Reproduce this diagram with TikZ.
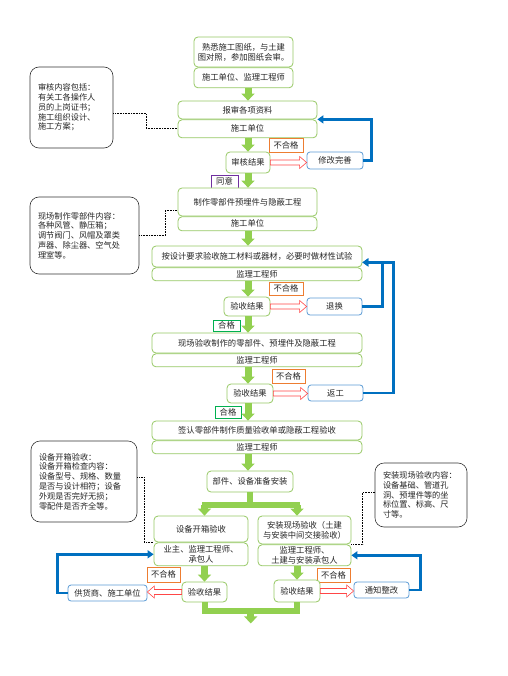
\documentclass[tikz,border=0pt]{standalone}
\usepackage{fontspec}
\setmainfont{Noto Sans CJK SC}
\usetikzlibrary{arrows.meta,calc,positioning}
\definecolor{flowgreen}{RGB}{146,208,80}
\definecolor{edgegreen}{RGB}{150,200,100}
\definecolor{linkblue}{RGB}{0,112,192}
\definecolor{boxblue}{RGB}{91,155,213}
\definecolor{tagorange}{RGB}{237,125,49}
\definecolor{tagpurple}{RGB}{112,48,160}
\definecolor{taggreen}{RGB}{0,176,80}
\definecolor{warnred}{RGB}{255,70,70}

% hollow block arrow between two points
\newcommand{\nogoarrow}[2]{%
  \path (#1) coordinate (na) (#2) coordinate (nb);
  \path ($(nb)!7pt!(na)$) coordinate (nh);
  \draw[hollow] ($(na)!2.5pt!90:(nb)$) -- ($(nh)!2.5pt!90:(nb)$) -- ($(nh)!6pt!90:(nb)$) -- (nb)
    -- ($(nh)!6pt!-90:(nb)$) -- ($(nh)!2.5pt!-90:(nb)$) -- ($(na)!2.5pt!-90:(nb)$) -- cycle;
}

\begin{document}
\begin{tikzpicture}[x=1pt, y=-1pt,
      box/.style={rectangle, rounded corners=4pt, draw=edgegreen, fill=white, line width=0.8pt, align=center, inner sep=1pt, text=black!85, font=\fontsize{8.3}{10}\selectfont},
      fixbox/.style={rectangle, rounded corners=3pt, draw=boxblue, fill=white, line width=0.8pt, inner sep=1pt, text=black!85, font=\fontsize{8.3}{10}\selectfont},
      tag/.style={rectangle, draw=#1, fill=white, line width=0.8pt, inner sep=1pt, text=black!85, font=\fontsize{8.3}{10}\selectfont},
      note/.style={rectangle, rounded corners=9pt, draw=black!80, fill=white, line width=0.6pt, align=left, inner xsep=8pt, text=black!85, font=\fontsize{8.2}{9.8}\selectfont},
      garr/.style={-{Triangle[length=7pt,width=13pt]}, draw=flowgreen, line width=7pt},
      gbar/.style={draw=flowgreen, line width=6pt},
      barr/.style={-{Triangle[length=6pt,width=8pt]}, draw=linkblue, line width=2.5pt},
      dotline/.style={densely dotted, draw=black, line width=0.6pt},
      hollow/.style={draw=warnred, fill=white, line width=0.6pt}
    ]
      \useasboundingbox (0,0) rectangle (507,676);
      \coordinate (spine) at (248,0);

      % Main column: preparation and review
      \node[box, minimum width=99pt, minimum height=30pt] (study) at (243.5,52) {熟悉施工图纸，与土建\\图对照，参加图纸会审。};
      \node[box, minimum width=99pt, minimum height=20pt, below=0pt of study] (studyby) {施工单位、监理工程师};
      \node[box, minimum width=139pt, minimum height=18pt] (review) at (247.5,110) {报审各项资料};
      \node[box, minimum width=139pt, minimum height=18pt, below=0pt of review] (reviewby) {施工单位};
      \node[box, minimum width=44pt, minimum height=21pt] (check1) at (248,162.5) {审核结果};
      \node[tag=tagorange, minimum width=34pt, minimum height=14pt] (ng1) at (286,145) {不合格};
      \node[fixbox, minimum width=56pt, minimum height=17pt] (fix) at (335,160.5) {修改完善};
      \node[tag=tagpurple, minimum width=27pt, minimum height=13pt] (agree) at (224.5,181.5) {同意};

      % Main column: parts and materials
      \node[box, minimum width=139pt, minimum height=28pt] (make) at (247.5,202) {制作零部件预埋件与隐蔽工程};
      \node[box, minimum width=139pt, minimum height=14pt, below=0pt of make] (makeby) {施工单位};
      \node[box, minimum width=210pt, minimum height=21pt] (mat) at (257,256.5) {按设计要求验收施工材料或器材，必要时做材性试验};
      \node[box, minimum width=210pt, minimum height=13pt, below=0pt of mat] (matby) {监理工程师};
      \node[tag=tagorange, minimum width=34pt, minimum height=13pt] (ng2) at (286,288.5) {不合格};
      \node[box, minimum width=46pt, minimum height=19pt] (check2) at (247,306.5) {验收结果};
      \node[fixbox, minimum width=55pt, minimum height=17pt] (swap) at (334.5,306.5) {退换};
      \node[tag=taggreen, minimum width=27pt, minimum height=11pt] (pass1) at (226.5,325.5) {合格};
      \node[box, minimum width=210pt, minimum height=20pt] (site) at (257,343) {现场验收制作的零部件、预埋件及隐蔽工程};
      \node[box, minimum width=210pt, minimum height=13pt, below=0pt of site] (siteby) {监理工程师};
      \node[tag=tagorange, minimum width=33pt, minimum height=14pt] (ng3) at (288.5,376) {不合格};
      \node[box, minimum width=46pt, minimum height=19pt] (check3) at (250,393.5) {验收结果};
      \node[fixbox, minimum width=55pt, minimum height=16pt] (redo) at (335.5,393) {返工};
      \node[tag=taggreen, minimum width=26pt, minimum height=12pt] (pass2) at (228,412) {合格};
      \node[box, minimum width=210pt, minimum height=19pt] (sign) at (257,430.5) {签认零部件制作质量验收单或隐蔽工程验收};
      \node[box, minimum width=210pt, minimum height=13pt, below=0pt of sign] (signby) {监理工程师};
      \node[box, minimum width=86pt, minimum height=21pt] (ready) at (250,481.5) {部件、设备准备安装};

      % Bottom: two acceptance branches
      \node[box, minimum width=94pt, minimum height=26pt] (unbox) at (201,529) {设备开箱验收};
      \node[box, minimum width=94pt, minimum height=23pt, below=0pt of unbox] (unboxby) {业主、监理工程师、\\承包人};
      \node[box, minimum width=93pt, minimum height=28pt] (install) at (304.5,530) {安装现场验收（土建\\与安装中间交接验收）};
      \node[box, minimum width=93pt, minimum height=21pt, below=0pt of install] (installby) {监理工程师、\\土建与安装承包人};
      \node[tag=tagorange, minimum width=33pt, minimum height=15pt] (ng4) at (163.5,574.5) {不合格};
      \node[box, minimum width=45pt, minimum height=20pt] (check4) at (204.5,592) {验收结果};
      \node[fixbox, minimum width=79pt, minimum height=16pt] (vendor) at (107.5,593) {供货商、施工单位};
      \node[tag=tagorange, minimum width=33pt, minimum height=14pt] (ng5) at (333.5,575) {不合格};
      \node[box, minimum width=46pt, minimum height=22pt] (check5) at (297,591) {验收结果};
      \node[fixbox, minimum width=55pt, minimum height=16pt] (notice) at (381.5,590) {通知整改};

      % Side notes
      \node[note, text width=67pt, minimum height=81pt] (note1) at (71.5,107.5) {审核内容包括：\\有关工各操作人\\员的上岗证书；\\施工组织设计、\\施工方案；};
      \node[note, text width=93pt, minimum height=77pt] (note2) at (84.5,235.5) {现场制作零部件内容：\\各种风管、静压箱；\\调节阀门、风帽及罩类\\声器、除尘器、空气处\\理室等。};
      \node[note, text width=90pt, minimum height=81pt] (note3) at (84,481.5) {设备开箱验收：\\设备开箱检查内容：\\设备型号、规格、数量\\是否与设计相符；设备\\外观是否完好无损；\\零配件是否齐全等。};
      \node[note, text width=76pt, minimum height=64pt] (note4) at (421,495) {安装现场验收内容：\\设备基础、管道孔\\洞、预埋件等的坐\\标位置、标高、尺\\寸等。};

      % Forward flow
      \draw[garr] (studyby.south -| spine) -- (review.north -| spine);
      \draw[garr] (reviewby.south -| spine) -- (check1.north -| spine);
      \draw[garr] (check1.south -| spine) -- (make.north -| spine);
      \draw[garr] (makeby.south -| spine) -- (mat.north -| spine);
      \draw[garr] (matby.south -| spine) -- (check2.north -| spine);
      \draw[garr] (check2.south -| spine) -- (site.north -| spine);
      \draw[garr] (siteby.south -| spine) -- (check3.north -| spine);
      \draw[garr] (check3.south -| spine) -- (sign.north -| spine);
      \draw[garr] (signby.south -| spine) -- (ready.north -| spine);
      \draw[gbar] (ready.south) -- ++(0,13) coordinate (split);
      \draw[gbar, line cap=rect] (split -| check4.north) -- (split -| check5.north);
      \draw[garr] (split -| check4.north) -- (unbox.north -| check4.north);
      \draw[garr] (split -| check5.north) -- (install.north -| check5.north);
      \draw[garr] (unboxby.south -| check4.north) -- (check4.north);
      \draw[garr] (installby.south -| check5.north) -- (check5.north);
      \draw[gbar, line join=miter] (check4.south) -- ++(0,9) coordinate (merge) -| (check5.south);
      \coordinate (mid) at ($(check4.south)!0.5!(check5.south)$);
      \draw[garr] (merge -| mid) -- ++(0,12);

      % Rejections
      \nogoarrow{check1.east}{check1.east -| fix.west}
      \nogoarrow{check2.east}{check2.east -| swap.west}
      \nogoarrow{check3.east}{check3.east -| redo.west}
      \nogoarrow{check4.west}{check4.west -| vendor.east}
      \nogoarrow{check5.east}{check5.east -| notice.west}

      % Feedback loops
      \draw[barr] (fix.east) -- ++(8,0) |- (review.south east);
      \draw[barr] (swap.east) -- ++(20,0) |- ([yshift=5pt]mat.south east);
      \draw[barr] (redo.east) -- ++(30,0) |- ([yshift=5pt]mat.south east);
      \draw[barr] (vendor.west) -- ++(-10,0) |- (unboxby.west);
      \draw[barr] (notice.east) -- ++(11,0) |- (installby.east);

      % Note links
      \draw[dotline] ([yshift=-6pt]note1.east) -- ++(33,0) |- (reviewby.west);
      \draw[dotline] (note2.east) -- ++(26,0) |- ([yshift=-8pt]make.west);
      \draw[dotline] ([yshift=4pt]note3.east) -- ++(7,0) |- (unbox.south west);
      \draw[dotline] ([yshift=3pt]note4.west) -- ++(-12,0) |- (install.south east);
    \end{tikzpicture}
\end{document}
